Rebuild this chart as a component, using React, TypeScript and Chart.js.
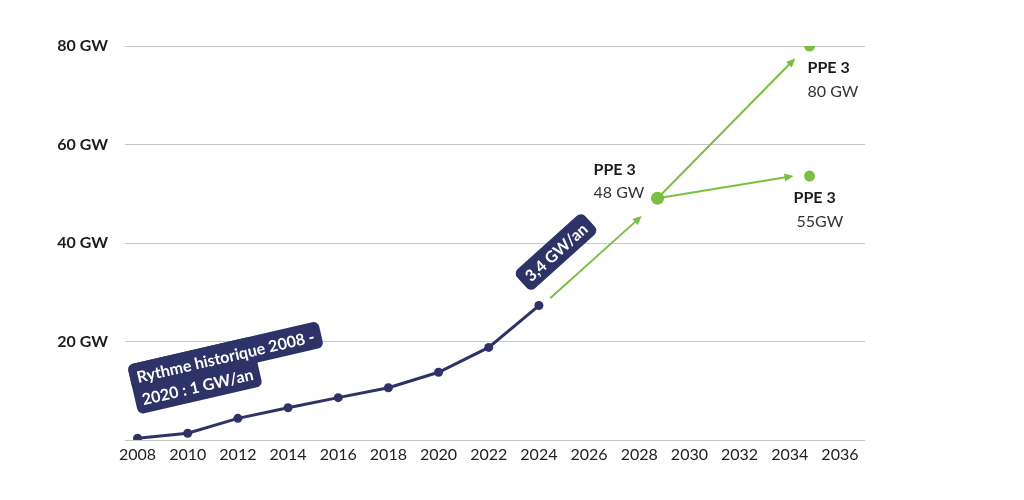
import React, { useEffect, useRef } from "react";
import { Chart, registerables } from "chart.js";

Chart.register(...registerables);

// ---------- data ----------
const historicYears = [2008, 2010, 2012, 2014, 2016, 2018, 2020, 2022, 2024];
const historicGW = [0.35, 1.36, 4.4, 6.55, 8.6, 10.6, 13.75, 18.8, 27.3];

const xTickYears = [2008, 2010, 2012, 2014, 2016, 2018, 2020, 2022, 2024, 2026, 2028, 2030, 2032, 2034, 2036];
const yTickValues = [0, 20, 40, 60, 80];

const ppeYears = [2028.73, 2034.79, 2034.79];
const ppeGW = [49.1, 80, 53.6];
const ppeTitles = ["PPE 3", "PPE 3", "PPE 3"];
const ppeValueLabels = ["48 GW", "80 GW", "55GW"];

const arrowStartYear = [2024.45, 2028.73, 2028.73];
const arrowStartGW = [28.8, 49.1, 49.1];
const arrowEndYear = [2028.1, 2034.22, 2034.15];
const arrowEndGW = [45.5, 77.5, 53.6];

const rythmeLines = ["Rythme historique 2008 -", "2020 : 1 GW/an"];
const rateLabel = "3,4 GW/an";

// ---------- styles ----------
const NAVY = "#2d3366";
const GREEN = "#7bbf42";
const GRID = "#c6c6c6";
const FONT = "Lato, 'Noto Sans', sans-serif";

// label placement relative to each PPE point (pixels)
const ppeLabelOffsets = [
  { dx: -64, dy1: -23, dy2: 0, dx2: -64 },
  { dx: -2, dy1: 27, dy2: 51, dx2: -2 },
  { dx: -16, dy1: 27, dy2: 51, dx2: -13 },
];

const arrowPlugin = {
  id: "arrows",
  beforeDatasetsDraw(chart: any) {
    const { ctx, scales } = chart;
    const x = scales.x;
    const y = scales.y;
    ctx.save();
    for (let i = 0; i < arrowStartYear.length; i++) {
      const sx = x.getPixelForValue(arrowStartYear[i]);
      const sy = y.getPixelForValue(arrowStartGW[i]);
      const ex = x.getPixelForValue(arrowEndYear[i]);
      const ey = y.getPixelForValue(arrowEndGW[i]);
      const ang = Math.atan2(ey - sy, ex - sx);
      const c = Math.cos(ang);
      const s = Math.sin(ang);
      const L = 9;
      const W = 4;
      ctx.strokeStyle = GREEN;
      ctx.lineWidth = 2;
      ctx.beginPath();
      ctx.moveTo(sx, sy);
      ctx.lineTo(ex - c * L * 0.7, ey - s * L * 0.7);
      ctx.stroke();
      ctx.fillStyle = GREEN;
      ctx.beginPath();
      ctx.moveTo(ex, ey);
      ctx.lineTo(ex - c * L - s * W, ey - s * L + c * W);
      ctx.lineTo(ex - c * L + s * W, ey - s * L - c * W);
      ctx.closePath();
      ctx.fill();
    }
    ctx.restore();
  },
};

const annotationPlugin = {
  id: "annotations",
  afterDatasetsDraw(chart: any) {
    const { ctx, scales } = chart;
    const x = scales.x;
    const y = scales.y;
    ctx.save();

    // PPE labels
    for (let i = 0; i < ppeYears.length; i++) {
      const px = x.getPixelForValue(ppeYears[i]);
      const py = y.getPixelForValue(ppeGW[i]);
      const o = ppeLabelOffsets[i];
      ctx.textAlign = "left";
      ctx.textBaseline = "alphabetic";
      ctx.fillStyle = "#1c1c1c";
      ctx.font = `bold 16px ${FONT}`;
      ctx.fillText(ppeTitles[i], px + o.dx, py + o.dy1);
      ctx.fillStyle = "#333333";
      ctx.font = `16px ${FONT}`;
      ctx.fillText(ppeValueLabels[i], px + o.dx2, py + o.dy2);
    }

    // Rythme historique box
    ctx.save();
    ctx.translate(127, 365);
    ctx.rotate((-13 * Math.PI) / 180);
    ctx.font = `bold 16px ${FONT}`;
    const w1 = ctx.measureText(rythmeLines[0]).width + 14;
    const w2 = ctx.measureText(rythmeLines[1]).width + 14;
    ctx.fillStyle = NAVY;
    ctx.beginPath();
    ctx.roundRect(0, 0, w1, 27, 6);
    ctx.fill();
    ctx.beginPath();
    ctx.roundRect(0, 0, w2, 51, 6);
    ctx.fill();
    ctx.fillStyle = "#ffffff";
    ctx.textAlign = "left";
    ctx.textBaseline = "alphabetic";
    ctx.fillText(rythmeLines[0], 7, 20);
    ctx.fillText(rythmeLines[1], 7, 43);
    ctx.restore();

    // 3,4 GW/an box
    ctx.save();
    ctx.translate(556, 252);
    ctx.rotate((-42 * Math.PI) / 180);
    ctx.font = `bold 16px ${FONT}`;
    const w3 = ctx.measureText(rateLabel).width + 14;
    ctx.fillStyle = NAVY;
    ctx.beginPath();
    ctx.roundRect(-w3 / 2, -13, w3, 26, 6);
    ctx.fill();
    ctx.fillStyle = "#ffffff";
    ctx.textAlign = "center";
    ctx.textBaseline = "middle";
    ctx.fillText(rateLabel, 0, 1);
    ctx.restore();

    ctx.restore();
  },
};

export default function App() {
  const canvasRef = useRef<HTMLCanvasElement | null>(null);

  useEffect(() => {
    document.body.style.margin = "0";
    const canvas = canvasRef.current;
    if (!canvas) return;
    const chart = new Chart(canvas, {
      type: "line",
      data: {
        datasets: [
          {
            label: "historique",
            data: historicYears.map((yr, i) => ({ x: yr, y: historicGW[i] })),
            borderColor: NAVY,
            backgroundColor: NAVY,
            borderWidth: 3,
            pointRadius: 4.5,
            pointBackgroundColor: NAVY,
            pointBorderWidth: 0,
            tension: 0,
          },
          {
            label: "PPE 3",
            data: ppeYears.map((yr, i) => ({ x: yr, y: ppeGW[i] })),
            showLine: false,
            borderColor: GREEN,
            backgroundColor: GREEN,
            pointRadius: [6.5, 5.5, 5.5],
            pointBackgroundColor: GREEN,
            pointBorderWidth: 0,
          },
        ],
      },
      options: {
        responsive: false,
        animation: false,
        layout: { padding: { left: 0, top: 46, right: 159, bottom: 0 } },
        plugins: {
          legend: { display: false },
          tooltip: { enabled: false },
        },
        scales: {
          x: {
            type: "linear",
            min: 2007.5,
            max: 2037,
            afterBuildTicks: (scale: any) => {
              scale.ticks = xTickYears.map((v) => ({ value: v }));
            },
            afterFit: (scale: any) => {
              scale.height = 60;
            },
            grid: { display: false, drawTicks: false },
            border: { display: false },
            ticks: {
              autoSkip: false,
              maxRotation: 0,
              padding: 5,
              color: "#222222",
              font: { family: FONT, size: 16 },
              callback: (v: any) => String(v),
            },
          },
          y: {
            min: 0,
            max: 80,
            afterBuildTicks: (scale: any) => {
              scale.ticks = yTickValues.map((v) => ({ value: v }));
            },
            afterFit: (scale: any) => {
              scale.width = 125;
            },
            grid: { color: GRID, lineWidth: 1, drawTicks: false },
            border: { display: false },
            ticks: {
              padding: 17,
              color: "#1c1c1c",
              font: { family: FONT, size: 16, weight: "bold" },
              callback: (v: any) => (v === 0 ? "" : `${v} GW`),
            },
          },
        },
      },
      plugins: [arrowPlugin, annotationPlugin],
    } as any);
    return () => chart.destroy();
  }, []);

  return (
    <div style={{ position: "fixed", left: 0, top: 0, width: 1024, height: 500, background: "#ffffff" }}>
      <canvas ref={canvasRef} width={1024} height={500} style={{ display: "block" }} />
    </div>
  );
}
